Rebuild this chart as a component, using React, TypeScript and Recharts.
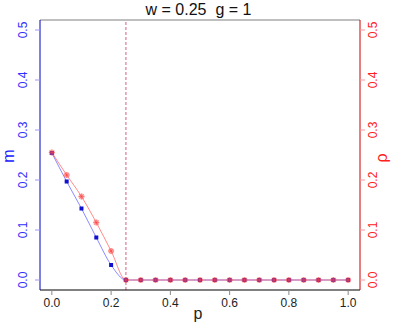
import React from "react";
import {
  ComposedChart,
  Line,
  XAxis,
  YAxis,
  ReferenceLine,
} from "recharts";

const P = [0, 0.05, 0.1, 0.15, 0.2, 0.25, 0.3, 0.35, 0.4, 0.45, 0.5, 0.55, 0.6, 0.65, 0.7, 0.75, 0.8, 0.85, 0.9, 0.95, 1.0];
const M = [0.254, 0.197, 0.143, 0.085, 0.03, 0, 0, 0, 0, 0, 0, 0, 0, 0, 0, 0, 0, 0, 0, 0, 0];
const RHO = [0.255, 0.21, 0.167, 0.115, 0.058, 0, 0, 0, 0, 0, 0, 0, 0, 0, 0, 0, 0, 0, 0, 0, 0];
const X_TICKS = [0, 0.2, 0.4, 0.6, 0.8, 1.0];
const Y_TICKS = [0, 0.1, 0.2, 0.3, 0.4, 0.5];

const data = P.map((p, i) => ({ p, m: M[i], rho: RHO[i] }));

const FONT = "'Liberation Sans', Arial, sans-serif";

const LeftTick = ({ x, y, payload }: any) => (
  <text
    x={x - 6}
    y={y}
    transform={`rotate(-90 ${x - 6} ${y})`}
    textAnchor="middle"
    fontSize={12}
    fontFamily={FONT}
    fill="#3030ff"
  >
    {payload.value.toFixed(1)}
  </text>
);

const RightTick = ({ x, y, payload }: any) => (
  <text
    x={x + 10}
    y={y}
    transform={`rotate(-90 ${x + 10} ${y})`}
    textAnchor="middle"
    fontSize={12}
    fontFamily={FONT}
    fill="#ff2020"
  >
    {payload.value.toFixed(1)}
  </text>
);

const BottomTick = ({ x, y, payload }: any) => (
  <text x={x} y={y + 10} textAnchor="middle" fontSize={12} fontFamily={FONT} fill="#222">
    {payload.value.toFixed(1)}
  </text>
);

const BlueDot = ({ cx, cy }: any) =>
  cx == null ? null : <rect x={cx - 2} y={cy - 2} width={4} height={4} fill="#1010d0" />;

// asterisk-like marker with a soft pink halo
const RedDot = ({ cx, cy }: any) =>
  cx == null ? null : (
    <g>
      <circle cx={cx} cy={cy} r={3} fill="rgba(255,90,90,0.45)" />
      <path
        d={`M${cx - 3},${cy} L${cx + 3},${cy} M${cx},${cy - 3} L${cx},${cy + 3} M${cx - 2},${cy - 2} L${cx + 2},${cy + 2} M${cx - 2},${cy + 2} L${cx + 2},${cy - 2}`}
        stroke="rgba(255,60,60,0.5)"
        strokeWidth={1}
      />
    </g>
  );

export default function App() {
  return (
    <div style={{ position: "absolute", left: 0, top: 0, width: 399, height: 330, background: "#fff" }}>
      <div
        style={{
          position: "absolute",
          left: 0,
          top: 1,
          width: 397,
          textAlign: "center",
          fontFamily: FONT,
          fontSize: 16,
          color: "#111",
          lineHeight: "18px",
        }}
      >
        w = 0.25&nbsp;&nbsp;g = 1
      </div>
      <ComposedChart
        width={399}
        height={330}
        data={data}
        margin={{ top: 20, right: 0, bottom: 0, left: 0 }}
      >
        <XAxis
          dataKey="p"
          type="number"
          domain={[-0.04, 1.04]}
          ticks={X_TICKS}
          allowDataOverflow
          height={40}
          stroke="#000"
          tickLine={{ stroke: "#888" }}
          tickSize={5}
          tick={<BottomTick />}
          label={{
            content: () => (
              <text x={198} y={319} textAnchor="middle" fontSize={16} fontFamily={FONT} fill="#222">
                p
              </text>
            ),
          }}
        />
        <YAxis
          yAxisId="left"
          type="number"
          domain={[-0.02, 0.52]}
          ticks={Y_TICKS}
          allowDataOverflow
          width={40}
          stroke="#0000c0"
          tickLine={{ stroke: "#9999ff" }}
          tickSize={5}
          tick={<LeftTick />}
          label={{
            content: () => (
              <text
                x={14}
                y={156}
                transform="rotate(-90 14 156)"
                textAnchor="middle"
                fontSize={16}
                fontFamily={FONT}
                fill="#2020ff"
              >
                m
              </text>
            ),
          }}
        />
        <YAxis
          yAxisId="right"
          orientation="right"
          type="number"
          domain={[-0.02, 0.52]}
          ticks={Y_TICKS}
          allowDataOverflow
          width={39}
          stroke="#cc0000"
          tickLine={{ stroke: "#ff9999" }}
          tickSize={5}
          tick={<RightTick />}
          label={{
            content: () => (
              <text
                x={387}
                y={158}
                transform="rotate(-90 387 158)"
                textAnchor="middle"
                fontSize={16}
                fontFamily={FONT}
                fill="#ff2020"
              >
                ρ
              </text>
            ),
          }}
        />
        <ReferenceLine y={0.52} yAxisId="left" stroke="#aaa" strokeWidth={1.5} />
        <ReferenceLine
          x={0.25}
          yAxisId="left"
          stroke="#d06080"
          strokeDasharray="3 2"
          strokeWidth={1}
        />
        <Line
          yAxisId="left"
          dataKey="m"
          type="monotone"
          stroke="rgba(60,60,255,0.6)"
          strokeWidth={1}
          dot={<BlueDot />}
          activeDot={false}
          isAnimationActive={false}
        />
        <Line
          yAxisId="right"
          dataKey="rho"
          type="monotone"
          stroke="rgba(255,60,60,0.6)"
          strokeWidth={1}
          dot={<RedDot />}
          activeDot={false}
          isAnimationActive={false}
        />
      </ComposedChart>
    </div>
  );
}
